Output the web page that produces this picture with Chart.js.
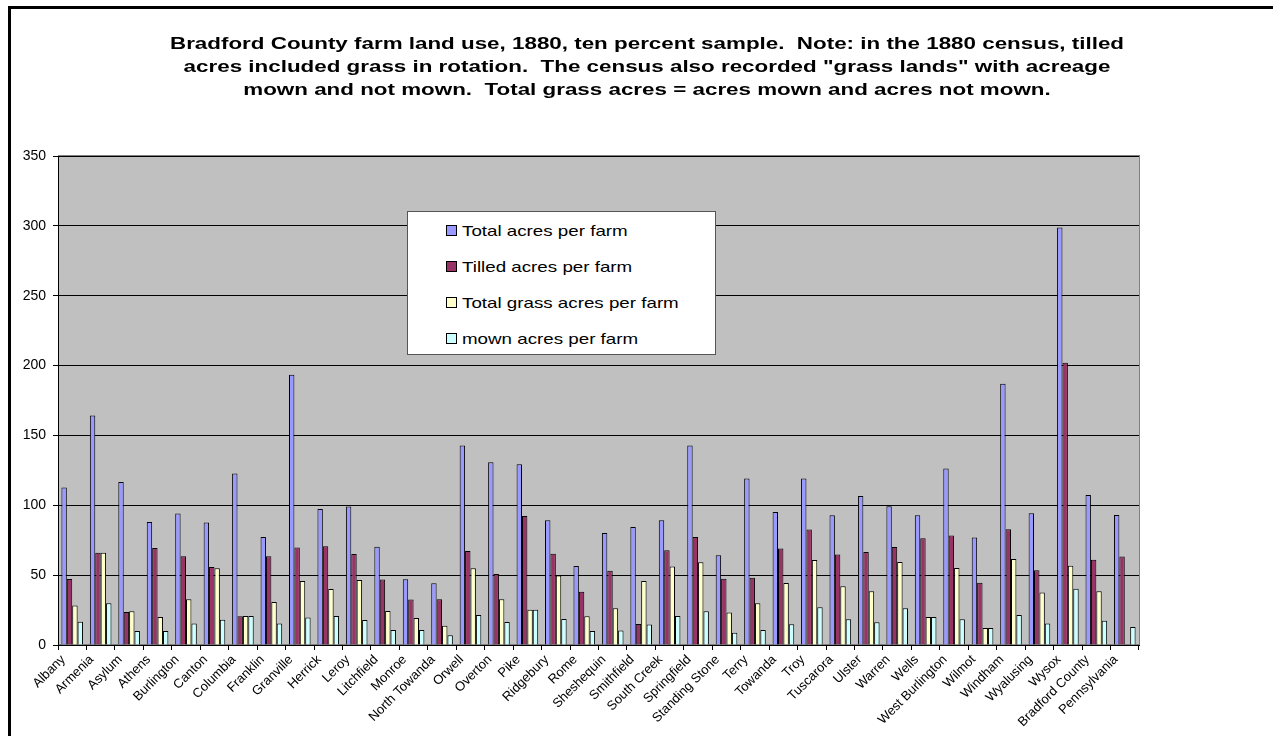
<!DOCTYPE html>
<html>
<head>
<meta charset="utf-8">
<title>Bradford County farm land use, 1880</title>
<script src="https://cdn.jsdelivr.net/npm/chart.js@4.4.0/dist/chart.umd.min.js"></script>
<style>
  html, body { margin: 0; padding: 0; background: #fff; }
  #wrap { position: relative; width: 1273px; height: 736px; overflow: hidden; }
  #frame { position: absolute; left: 8px; top: 6px; right: -10px; bottom: -10px;
           border-top: 3px solid #000; border-left: 3px solid #000; }
  #canvas { position: absolute; left: 0; top: 0; }
  #legendBox { position: absolute; left: 407px; top: 211px; width: 307px; height: 142px;
               background: #fff; border: 1px solid #555; z-index: 2;
               font-family: 'Liberation Sans', Arial, sans-serif; font-size: 15px; color: #000; }
  .item { position: absolute; left: 38px; height: 18px; display: flex; align-items: center; white-space: nowrap; }
  .swatch { width: 9px; height: 9px; border: 1px solid #000; margin-right: 5px; }
  .txt { display: inline-block; transform: scaleX(1.25); transform-origin: left center; }
</style>
</head>
<body>
<div id="wrap">
  <div id="frame"></div>
  <canvas id="canvas" width="1273" height="736"></canvas>
  <div id="legendBox"></div>
</div>
<script>
'use strict';

// town names along the x axis
var towns = ['Albany', 'Armenia', 'Asylum', 'Athens', 'Burlington', 'Canton', 'Columbia',
	'Franklin', 'Granville', 'Herrick', 'Leroy', 'Litchfield', 'Monroe', 'North Towanda',
	'Orwell', 'Overton', 'Pike', 'Ridgebury', 'Rome', 'Sheshequin', 'Smithfield',
	'South Creek', 'Springfield', 'Standing Stone', 'Terry', 'Towanda', 'Troy', 'Tuscarora',
	'Ulster', 'Warren', 'Wells', 'West Burlington', 'Wilmot', 'Windham', 'Wyalusing', 'Wysox',
	'Bradford County', 'Pennsylvania'];

var totalAcres = [112.7, 164.2, 116.7, 88.1, 94.1, 87.6, 122.7, 77.3, 193.4, 97.4, 99.1, 70.4,
	47.0, 44.2, 142.8, 130.8, 129.4, 89.3, 56.6, 80.2, 84.5, 89.3, 142.8, 64.2, 119.1, 95.2,
	119.1, 92.9, 106.7, 99.3, 92.9, 126.3, 76.9, 186.9, 94.3, 298.9, 107.4, 93.1];

var tilledAcres = [47.3, 66.1, 23.6, 69.5, 63.5, 55.9, 20.5, 63.5, 69.7, 70.7, 65.2, 46.8,
	32.5, 32.7, 67.3, 50.8, 92.4, 65.4, 38.2, 53.2, 15.0, 67.8, 77.3, 47.5, 48.2, 69.0,
	82.6, 64.7, 66.6, 70.2, 76.4, 78.3, 44.6, 82.8, 53.5, 202.0, 61.1, 63.3];

var grassAcres = [28.2, 66.1, 24.1, 20.1, 32.7, 54.9, 20.8, 30.8, 45.8, 40.1, 46.6, 24.3,
	19.3, 13.8, 54.9, 32.7, 25.3, 49.7, 20.5, 26.3, 45.8, 56.1, 59.2, 23.2, 29.8, 44.4,
	60.9, 42.0, 38.4, 59.4, 20.1, 55.1, 12.2, 61.6, 37.5, 56.8, 38.4, null];

var mownAcres = [16.7, 29.8, 10.0, 10.0, 15.3, 18.1, 20.8, 15.3, 19.6, 20.8, 17.9, 10.7,
	10.7, 6.9, 21.5, 16.5, 25.3, 18.6, 10.0, 10.3, 14.6, 20.8, 24.1, 8.8, 10.7, 14.8,
	27.0, 18.4, 16.2, 26.3, 20.1, 18.4, 12.2, 21.5, 15.3, 40.3, 17.4, 12.9];

var seriesNames = ['Total acres per farm', 'Tilled acres per farm',
	'Total grass acres per farm', 'mown acres per farm'];
var seriesColors = ['#9999ff', '#993366', '#ffffcc', '#ccffff'];

var yMin = 0, yMax = 350, yStep = 50;

var titleLines = [
	'Bradford County farm land use, 1880, ten percent sample.  Note: in the 1880 census, tilled',
	'acres included grass in rotation.  The census also recorded "grass lands" with acreage',
	'mown and not mown.  Total grass acres = acres mown and acres not mown.'
];

var FONT = "'Liberation Sans', Arial, sans-serif";

// grey plot area like the old excel charts
var plotArea = {
	id: 'plotArea',
	beforeDraw: function(chart) {
		var a = chart.chartArea, ctx = chart.ctx;
		ctx.save();
		ctx.fillStyle = '#c0c0c0';
		ctx.fillRect(a.left, a.top, a.right - a.left, a.bottom - a.top);
		ctx.strokeStyle = '#808080';
		ctx.lineWidth = 1;
		ctx.strokeRect(a.left + 0.5, a.top - 0.5, a.right - a.left, a.bottom - a.top);
		ctx.restore();
	}
};

// the original picture is stretched sideways, so the title is widened to the same span
var headText = {
	id: 'headText',
	afterDraw: function(chart) {
		var ctx = chart.ctx;
		ctx.save();
		ctx.fillStyle = '#000';
		ctx.font = 'bold 16px ' + FONT;
		var sx = 954 / ctx.measureText(titleLines[0]).width;
		ctx.textAlign = 'center';
		ctx.textBaseline = 'middle';
		ctx.translate(647, 0);
		ctx.scale(sx, 1);
		titleLines.forEach(function(line, i) {
			ctx.fillText(line, 0, 45 + i * 23);
		});
		ctx.restore();
	}
};

var allData = [totalAcres, tilledAcres, grassAcres, mownAcres];

window.onload = function() {
	var ctx = document.getElementById('canvas').getContext('2d');
	window.myBar = new Chart(ctx, {
		type: 'bar',
		data: {
			labels: towns,
			datasets: allData.map(function(d, i) {
				return {
					label: seriesNames[i],
					data: d,
					backgroundColor: seriesColors[i],
					borderColor: '#000',
					borderWidth: 1,
					barPercentage: 1.0,
					categoryPercentage: 0.76
				};
			})
		},
		options: {
			responsive: false,
			animation: false,
			layout: { padding: { top: 156, right: 134, left: 0, bottom: 0 } },
			plugins: {
				legend: { display: false },
				title: { display: false },
				tooltip: { enabled: false }
			},
			scales: {
				x: {
					afterFit: function(scale) { scale.height = 91; },
					border: { display: true, color: '#000', width: 1 },
					grid: { display: true, offset: true, drawOnChartArea: false, drawTicks: true,
						tickLength: 5, color: '#000' },
					ticks: { autoSkip: false, minRotation: 45, maxRotation: 45, padding: 2,
						labelOffset: -9, color: '#000', font: { family: FONT, size: 13 } }
				},
				y: {
					min: yMin,
					max: yMax,
					afterFit: function(scale) { scale.width = 58; },
					border: { display: true, color: '#000', width: 1 },
					grid: { color: '#000', lineWidth: 1, tickLength: 5, drawTicks: true },
					ticks: { stepSize: yStep, padding: 7, color: '#000',
						font: { family: FONT, size: 14 } }
				}
			}
		},
		plugins: [plotArea, headText]
	});

	// legend box sits inside the plot like the original
	var box = document.getElementById('legendBox');
	seriesNames.forEach(function(name, i) {
		var it = document.createElement('div');
		it.className = 'item';
		it.style.top = (9 + i * 36) + 'px';
		var sw = document.createElement('span');
		sw.className = 'swatch';
		sw.style.background = seriesColors[i];
		var tx = document.createElement('span');
		tx.className = 'txt';
		tx.textContent = name;
		it.appendChild(sw);
		it.appendChild(tx);
		box.appendChild(it);
	});
};
</script>
</body>
</html>
